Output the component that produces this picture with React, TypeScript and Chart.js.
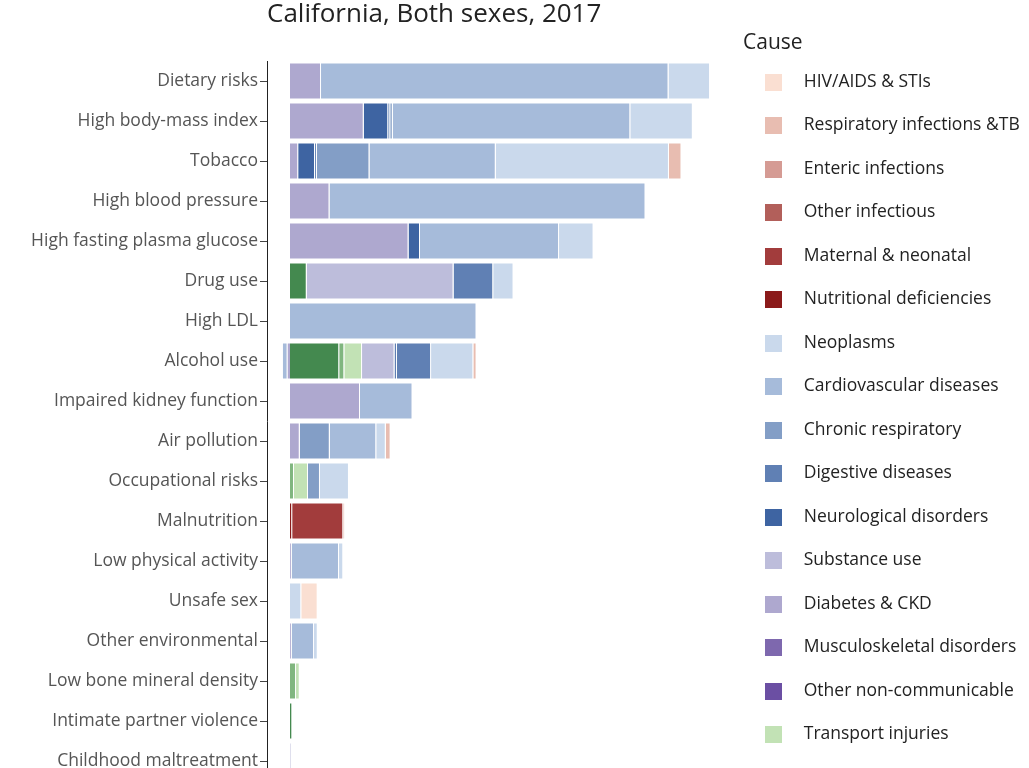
import React, { useEffect, useRef } from 'react';
import { Chart, registerables } from 'chart.js';

Chart.register(...registerables);

const TITLE = 'California, Both sexes, 2017';
const LEGEND_TITLE = 'Cause';

const risks = [
  'Dietary risks',
  'High body-mass index',
  'Tobacco',
  'High blood pressure',
  'High fasting plasma glucose',
  'Drug use',
  'High LDL',
  'Alcohol use',
  'Impaired kidney function',
  'Air pollution',
  'Occupational risks',
  'Malnutrition',
  'Low physical activity',
  'Unsafe sex',
  'Other environmental',
  'Low bone mineral density',
  'Intimate partner violence',
  'Childhood maltreatment',
];

const causes = [
  'HIV/AIDS & STIs',
  'Respiratory infections &TB',
  'Enteric infections',
  'Other infectious',
  'Maternal & neonatal',
  'Nutritional deficiencies',
  'Neoplasms',
  'Cardiovascular diseases',
  'Chronic respiratory',
  'Digestive diseases',
  'Neurological disorders',
  'Substance use',
  'Diabetes & CKD',
  'Musculoskeletal disorders',
  'Other non-communicable',
  'Transport injuries',
  'Unintentional injuries',
  'Self-harm & violence',
];

const causeColors = [
  '#fadfd2',
  '#e8bdb1',
  '#d59b94',
  '#b25f5a',
  '#a23c3c',
  '#8b1a1a',
  '#cad9ec',
  '#a6bbda',
  '#839ec6',
  '#6080b4',
  '#3e64a2',
  '#bdbddb',
  '#aea8cf',
  '#7e68ae',
  '#6b4fa3',
  '#c2e2b5',
  '#80b67f',
  '#44894f',
];

// values per cause, in the order of `risks`
const hivAids = [0, 0, 0, 0, 0, 0, 0, 0, 0, 0, 0, 0, 0, 2.34, 0, 0, 0, 0];
const respiratoryInfections = [0, 0, 1.79, 0, 0, 0, 0, 0.46, 0, 0.69, 0, 0.24, 0, 0, 0, 0, 0, 0];
const entericInfections = [0, 0, 0, 0, 0, 0, 0, 0, 0, 0, 0, 0, 0, 0, 0, 0, 0, 0];
const otherInfectious = [0, 0, 0, 0, 0, 0, 0, 0, 0, 0, 0, 0, 0, 0, 0, 0, 0, 0];
const maternalNeonatal = [0, 0, 0, 0, 0, 0, 0, 0, 0, 0, 0, 7.3, 0, 0, 0, 0, 0, 0];
const nutritionalDeficiencies = [0, 0, 0, 0, 0, 0, 0, 0, 0, 0, 0, 0.31, 0, 0, 0, 0, 0, 0];
const neoplasms = [5.93, 8.93, 24.74, 0, 4.93, 2.9, 0, 6.04, 0, 1.36, 4.14, 0, 0.61, 1.61, 0.53, 0, 0, 0];
const cardiovascular = [49.64, 33.93, 18.04, 45.14, 19.86, 0, 26.64, -0.69, 7.5, 6.64, 0, 0, 6.76, 0, 3.19, 0, 0, 0];
const chronicRespiratory = [0, 0.36, 7.51, 0, 0, 0, 0, 0, 0, 4.29, 1.71, 0, 0, 0, 0, 0, 0, 0];
const digestive = [0, 0.29, 0.27, 0, 0, 5.67, 0, 4.89, 0, 0, 0, 0, 0, 0, 0, 0, 0, 0];
const neurological = [0, 3.5, 2.4, 0, 1.64, 0, 0, 0.33, 0, 0, 0, 0, 0, 0, 0, 0, 0, 0];
const substanceUse = [0, 0, 0, 0, 0, 20.97, 0, 4.64, 0, 0, 0, 0, 0, 0, 0, 0, 0, 0.14];
const diabetesCkd = [4.43, 10.53, 1.17, 5.64, 16.93, 0, 0, -0.46, 10.0, 1.39, 0, 0, 0.24, 0, 0.24, 0, 0, 0];
const musculoskeletal = [0, 0, 0, 0, 0, 0, 0, 0, 0, 0, 0, 0, 0, 0, 0, 0, 0, 0];
const otherNonCommunicable = [0, 0, 0, 0, 0, 0, 0, 0, 0, 0, 0, 0, 0, 0, 0, 0, 0, 0];
const transportInjuries = [0, 0, 0, 0, 0, 0, 0, 2.53, 0, 0, 2.0, 0, 0, 0, 0, 0.53, 0, 0];
const unintentionalInjuries = [0, 0, 0, 0, 0, 0, 0, 0.73, 0, 0, 0.57, 0, 0, 0, 0, 0.86, 0, 0];
const selfHarmViolence = [0, 0, 0, 0, 0, 2.39, 0, 7.03, 0, 0, 0, 0, 0, 0, 0, 0, 0.33, 0];

const causeValues = [
  hivAids,
  respiratoryInfections,
  entericInfections,
  otherInfectious,
  maternalNeonatal,
  nutritionalDeficiencies,
  neoplasms,
  cardiovascular,
  chronicRespiratory,
  digestive,
  neurological,
  substanceUse,
  diabetesCkd,
  musculoskeletal,
  otherNonCommunicable,
  transportInjuries,
  unintentionalInjuries,
  selfHarmViolence,
];

const X_MIN = -3.286;
const X_MAX = 64.71;

const FAMILY = '"Open Sans", sans-serif';

function makeSwatch(color: string) {
  const c = document.createElement('canvas');
  c.width = 36;
  c.height = 17;
  const g = c.getContext('2d');
  if (g) {
    g.fillStyle = color;
    g.fillRect(1, 0, 17, 17);
  }
  return c;
}

export default function App() {
  const ref = useRef<HTMLCanvasElement>(null);

  useEffect(() => {
    let chart: Chart | null = null;
    let cancelled = false;

    const build = () => {
      if (cancelled || !ref.current) return;
      // stacking order: last cause first (nearest the zero line)
      const datasets = causes
        .map((name, i) => ({
          label: name,
          data: causeValues[i],
          backgroundColor: causeColors[i],
          borderColor: '#ffffff',
          borderWidth: 1,
          borderSkipped: 'start' as const,
          barPercentage: 0.925,
          categoryPercentage: 1,
        }))
        .reverse();

      chart = new Chart(ref.current, {
        type: 'bar',
        data: { labels: risks, datasets },
        options: {
          responsive: false,
          animation: false,
          indexAxis: 'y',
          layout: { padding: { left: 0, top: 0, bottom: 0, right: 2 } },
          plugins: {
            title: {
              display: true,
              text: TITLE,
              align: 'start',
              fullSize: false,
              color: '#222',
              font: { size: 26, weight: 'normal', family: FAMILY, lineHeight: 1 },
              padding: { top: 1.5, bottom: 33.5 },
            },
            legend: {
              position: 'right',
              align: 'start',
              reverse: true,
              maxWidth: 284,
              title: {
                display: true,
                text: LEGEND_TITLE,
                position: 'start',
                color: '#222',
                font: { size: 21, family: FAMILY },
                padding: { top: 33, bottom: -10.95 },
              },
              labels: {
                color: '#222',
                font: { size: 17.5, family: FAMILY },
                padding: 26,
                usePointStyle: true,
                pointStyleWidth: 26,
                generateLabels: (ch: any) => {
                  const items = Chart.defaults.plugins.legend.labels.generateLabels(ch);
                  return items.map((it: any) => ({
                    ...it,
                    pointStyle: makeSwatch(
                      ch.data.datasets[it.datasetIndex].backgroundColor as string
                    ),
                    lineWidth: 0,
                  }));
                },
              },
            },
            tooltip: { enabled: false },
          },
          scales: {
            x: {
              stacked: true,
              min: X_MIN,
              max: X_MAX,
              grid: { display: false },
              border: { display: false },
              ticks: { display: false },
              afterFit: (s: any) => {
                s.height = 119;
              },
            },
            y: {
              stacked: true,
              grid: {
                display: true,
                drawOnChartArea: false,
                drawTicks: true,
                tickLength: 7,
                offset: false,
                color: '#444',
                lineWidth: 1,
              },
              border: { display: true, color: '#222', width: 1 },
              ticks: {
                color: '#555',
                font: { size: 17.5, family: FAMILY },
                padding: 2,
                autoSkip: false,
              },
              afterFit: (s: any) => {
                s.width = 267;
              },
            },
          },
        },
      } as any);
    };

    if ((document as any).fonts && (document as any).fonts.load) {
      (document as any).fonts.load('17px "Open Sans"').then(build, build);
    } else {
      build();
    }

    return () => {
      cancelled = true;
      if (chart) chart.destroy();
    };
  }, []);

  return (
    <div
      style={{
        position: 'fixed',
        left: 0,
        top: 0,
        width: 1029,
        height: 768,
        overflow: 'hidden',
        background: '#fff',
      }}
    >
      <canvas ref={ref} width={1029} height={900} style={{ display: 'block' }} />
    </div>
  );
}
